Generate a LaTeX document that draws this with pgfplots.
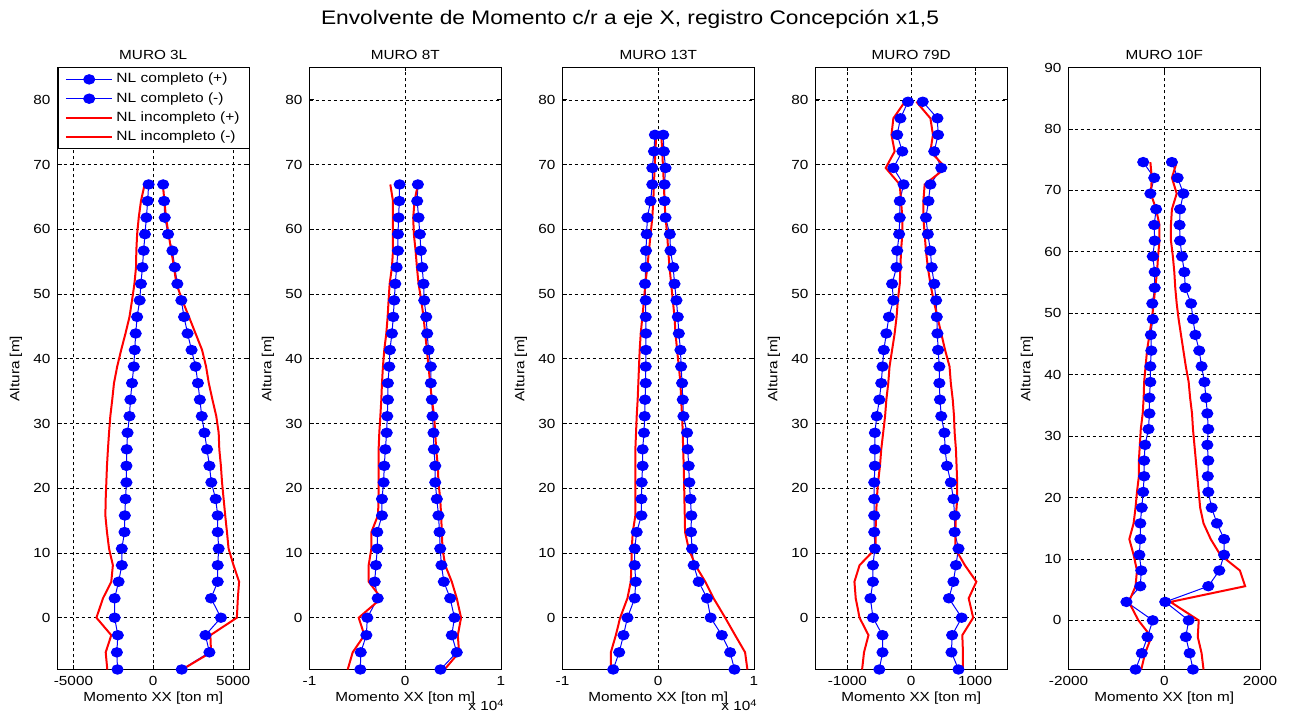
\documentclass[border=0pt]{standalone}
\usepackage{fontspec}
\setmainfont{Liberation Sans}[FakeStretch=1.16]
\usepackage{pgfplots}
\usepackage{pgfplotstable}
\pgfplotsset{compat=1.18}

\definecolor{mblue}{RGB}{0,0,255}
\definecolor{mred}{RGB}{255,0,0}
\newcommand{\smallfont}{\fontsize{6.6}{7.8}\selectfont}
\newcommand{\expten}{x 10\raisebox{0.55ex}{\fontsize{4.8}{5}\selectfont 4}}

% columns: height, NL completo (+), NL completo (-), NL incompleto (+), NL incompleto (-)
\pgfplotstableread{
h bp bn rp rn
-8 1780 -2240 1820 -2880
-5.35 3520 -2280 3620 -2980
-2.7 3270 -2220 3580 -2630
0 4240 -2420 5240 -3560
3.00 3620 -2420 5300 -3150
5.56 4040 -2170 5380 -2630
8.11 4040 -1970 5030 -2530
10.67 4100 -1970 4720 -2770
13.23 4040 -1800 4620 -2900
15.79 4040 -1780 4510 -3000
18.34 3910 -1740 4410 -2980
20.90 3640 -1680 4310 -2940
23.46 3520 -1680 4240 -2900
26.01 3370 -1660 4140 -2840
28.57 3210 -1610 4100 -2770
31.13 3040 -1490 3950 -2690
33.68 2920 -1430 3710 -2570
36.24 2800 -1330 3480 -2460
38.80 2650 -1220 3310 -2260
41.36 2400 -1160 3060 -2010
43.91 2150 -1100 2650 -1740
46.47 1930 -1010 2240 -1490
49.03 1760 -850 1820 -1330
51.58 1510 -770 1450 -1180
54.14 1350 -680 1300 -1080
56.70 1200 -600 1130 -1060
59.25 930 -520 960 -1010
61.81 720 -430 800 -910
64.37 680 -350 700 -770
66.93 620 -290 600 -540
}\tA

\pgfplotstableread{
h bp bn rp rn
-8 3680 -4690 4100 -6010
-5.35 5380 -4650 5620 -5490
-2.7 4860 -4060 5490 -4270
0 5140 -3960 5830 -4860
3.00 4690 -2880 5380 -2500
5.56 4030 -3190 4860 -3820
8.11 3780 -3060 4170 -3820
10.67 3650 -2920 3890 -3540
13.23 3580 -2920 3820 -3540
15.79 3470 -2430 3750 -2850
18.34 3300 -2430 3650 -2780
20.90 3130 -2260 3470 -2780
23.46 3130 -2190 3400 -2780
26.01 2990 -2080 3230 -2780
28.57 2950 -1940 3130 -2710
31.13 2850 -1880 3020 -2600
33.68 2780 -1810 2780 -2500
36.24 2670 -1810 2600 -2430
38.80 2670 -1670 2430 -2330
41.36 2430 -1600 2260 -2190
43.91 2290 -1390 2080 -1980
46.47 2190 -1250 1910 -1840
49.03 1980 -1150 1670 -1740
51.58 1910 -1040 1390 -1630
54.14 1770 -900 1220 -1390
56.70 1630 -760 1080 -1280
59.25 1530 -760 900 -1280
61.81 1390 -690 830 -1280
64.37 1250 -625 970 -1280
66.93 1320 -590 1320 -1560
}\tB

\pgfplotstableread{
h bp bn rp rn
-8 7960 -4710 9310 -4950
-5.35 7510 -4080 9070 -4950
-2.7 6640 -3630 8030 -4430
0 5470 -3220 6990 -3980
3.00 5090 -2460 5780 -3220
5.56 4220 -2350 4910 -2870
8.11 3700 -2460 3880 -2800
10.67 3530 -2460 3180 -2770
13.23 3430 -2250 2800 -2660
15.79 3460 -1760 2770 -2390
18.34 3360 -1760 2730 -2390
20.90 3250 -1730 2700 -2390
23.46 3180 -1630 2660 -2390
26.01 3080 -1630 2600 -2390
28.57 3010 -1490 2560 -2320
31.13 2630 -1420 2490 -2250
33.68 2560 -1380 2390 -2150
36.24 2490 -1310 2320 -2080
38.80 2390 -1310 2150 -2010
41.36 2320 -1280 1970 -1940
43.91 2150 -1280 1800 -1830
46.47 2040 -1310 1700 -1660
49.03 1900 -1310 1520 -1490
51.58 1700 -1380 1350 -1350
54.14 1560 -1310 1180 -1140
56.70 1280 -1280 1040 -970
59.25 1210 -1210 930 -800
61.81 760 -1140 760 -620
64.37 660 -800 650 -520
66.93 660 -620 590 -450
69.48 760 -620 500 -380
72.04 590 -450 420 -300
74.60 520 -350 310 -210
}\tC

\pgfplotstableread{
h bp bn rp rn
-8 740 -500 810 -770
-5.35 630 -450 810 -740
-2.7 640 -450 800 -670
0 790 -600 970 -810
3.00 590 -640 900 -870
5.56 660 -600 1020 -890
8.11 700 -600 840 -810
10.67 740 -570 690 -560
13.23 680 -580 690 -560
15.79 680 -580 700 -550
18.34 660 -580 720 -540
20.90 620 -580 720 -520
23.46 560 -570 710 -490
26.01 530 -570 700 -470
28.57 520 -570 680 -440
31.13 470 -540 670 -410
33.68 450 -500 650 -390
36.24 440 -470 620 -360
38.80 440 -450 600 -340
41.36 420 -430 530 -300
43.91 410 -390 470 -260
46.47 400 -350 410 -230
49.03 390 -280 350 -210
51.58 360 -300 300 -180
54.14 320 -230 260 -170
56.70 300 -220 230 -160
59.25 260 -190 210 -140
61.81 230 -180 190 -140
64.37 270 -180 190 -160
66.93 300 -120 210 -180
69.48 470 -280 540 -400
72.04 360 -140 300 -260
74.60 420 -220 340 -310
77.15 410 -170 300 -280
79.71 180 -50 80 -100
}\tD

\pgfplotstableread{
h bp bn rp rn
-8 600 -600 820 -480
-5.35 530 -470 780 -400
-2.7 450 -350 700 -270
0 510 -240 720 -540
3.00 20 -790 130 -740
5.56 920 -500 1690 -600
8.11 1150 -480 1580 -570
10.67 1250 -520 1170 -640
13.23 1250 -500 970 -730
15.79 1100 -500 820 -640
18.34 990 -470 750 -600
20.90 920 -440 720 -570
23.46 910 -420 690 -530
26.01 920 -420 660 -530
28.57 900 -400 630 -510
31.13 920 -330 600 -490
33.68 900 -310 580 -450
36.24 870 -310 540 -430
38.80 840 -290 510 -420
41.36 780 -290 450 -390
43.91 730 -270 400 -360
46.47 650 -280 350 -310
49.03 600 -240 300 -260
51.58 560 -250 260 -220
54.14 440 -200 230 -190
56.70 420 -200 210 -150
59.25 370 -240 180 -130
61.81 330 -200 140 -100
64.37 320 -210 140 -100
66.93 330 -170 160 -170
69.48 400 -290 260 -280
72.04 280 -210 160 -260
74.60 160 -440 260 -290
}\tE

\pgfplotsset{
  muro/.style={
    scale only axis,
    width=95.75pt, height=301pt,
    anchor=south west,
    ymin=-8,
    grid=major,
    major grid style={black, line width=0.35pt, dash pattern=on 1.5pt off 1.5pt},
    axis line style={black, line width=0.5pt},
    tick align=inside,
    major tick length=2pt,
    tick style={black, line width=0.4pt},
    every tick label/.append style={font=\smallfont},
    /pgf/number format/assume math mode=true,
    scaled ticks=false,
    xlabel={Momento XX [ton m]},
    ylabel={Altura [m]},
    label style={font=\smallfont},
    xlabel style={at={(axis description cs:0.5,0)}, anchor=center, yshift=-14.2pt},
    ylabel style={at={(axis description cs:-0.2167,0.5)}, anchor=center},
    every axis title shift=0pt,
    title style={at={(axis description cs:0.5,1)}, anchor=base, yshift=4.1pt, font=\smallfont},
    clip=false,
  },
  completo/.style={mblue, line width=0.5pt, mark=*, mark size=2.35pt,
    mark options={xscale=1.18, fill=mblue, draw=mblue, solid}},
  incompleto/.style={mred, line width=1pt, no marks},
}

\begin{document}
\begin{tikzpicture}
\path[use as bounding box] (0,0) rectangle (646pt,356.5pt);

\node[anchor=base, font=\fontsize{9.8}{11}\selectfont] at (315pt,344pt)
  {Envolvente de Momento c/r a eje X, registro Concepción x1,5};

% MURO 3L
\begin{axis}[muro, at={(28.75pt,21.75pt)}, title={MURO 3L},
  xmin=-6000, xmax=6000, ymax=85,
  xtick={-5000,0,5000}, xticklabels={-5000,0,5000},
  ytick={0,10,...,80},
  legend cell align=left,
  legend image code/.code={\draw[mark repeat=2,mark phase=2,#1]
    plot coordinates {(0pt,0pt) (11.65pt,0pt) (23.3pt,0pt)};},
  legend style={at={(0,1)}, anchor=north west, draw=black, line width=0.5pt,
    fill=white, font=\fontsize{6.7}{7.8}\selectfont,
    minimum width=95.75pt, minimum height=40.35pt,
    nodes={minimum width=0pt, minimum height=0pt, inner ysep=0.5pt, inner xsep=1.5pt},
    row sep=2.3pt},
]
\addplot[completo] table[x=bp,y=h]{\tA};
\addplot[completo] table[x=bn,y=h]{\tA};
\addplot[incompleto] table[x=rp,y=h]{\tA};
\addplot[incompleto] table[x=rn,y=h]{\tA};
\legend{NL completo (+),NL completo (-),NL incompleto (+),NL incompleto (-)}
\end{axis}

% MURO 8T
\begin{axis}[muro, at={(154.75pt,21.75pt)}, title={MURO 8T},
  xmin=-10000, xmax=10000, ymax=85,
  xtick={-10000,0,10000}, xticklabels={-1,0,1},
  ytick={0,10,...,80},
]
\addplot[completo] table[x=bp,y=h]{\tB};
\addplot[completo] table[x=bn,y=h]{\tB};
\addplot[incompleto] table[x=rp,y=h]{\tB};
\addplot[incompleto] table[x=rn,y=h]{\tB};
\end{axis}

% MURO 13T
\begin{axis}[muro, at={(281.25pt,21.75pt)}, title={MURO 13T},
  xmin=-10000, xmax=10000, ymax=85,
  xtick={-10000,0,10000}, xticklabels={-1,0,1},
  ytick={0,10,...,80},
]
\addplot[completo] table[x=bp,y=h]{\tC};
\addplot[completo] table[x=bn,y=h]{\tC};
\addplot[incompleto] table[x=rp,y=h]{\tC};
\addplot[incompleto] table[x=rn,y=h]{\tC};
\end{axis}

% MURO 79D
\begin{axis}[muro, at={(407.75pt,21.75pt)}, title={MURO 79D},
  xmin=-1500, xmax=1500, ymax=85,
  xtick={-1000,0,1000}, xticklabels={-1000,0,1000},
  ytick={0,10,...,80},
]
\addplot[completo] table[x=bp,y=h]{\tD};
\addplot[completo] table[x=bn,y=h]{\tD};
\addplot[incompleto] table[x=rp,y=h]{\tD};
\addplot[incompleto] table[x=rn,y=h]{\tD};
\end{axis}

% MURO 10F
\begin{axis}[muro, at={(534.25pt,21.75pt)}, title={MURO 10F},
  xmin=-2000, xmax=2000, ymax=90,
  xtick={-2000,0,2000}, xticklabels={-2000,0,2000},
  ytick={0,10,...,90},
]
\addplot[completo] table[x=bp,y=h]{\tE};
\addplot[completo] table[x=bn,y=h]{\tE};
\addplot[incompleto] table[x=rp,y=h]{\tE};
\addplot[incompleto] table[x=rn,y=h]{\tE};
\end{axis}

% scale factors of the two wide panels
\node[anchor=base west, font=\smallfont, inner sep=0pt] at (234pt,1.5pt) {\expten};
\node[anchor=base west, font=\smallfont, inner sep=0pt] at (360.5pt,1.5pt) {\expten};
\end{tikzpicture}
\end{document}
